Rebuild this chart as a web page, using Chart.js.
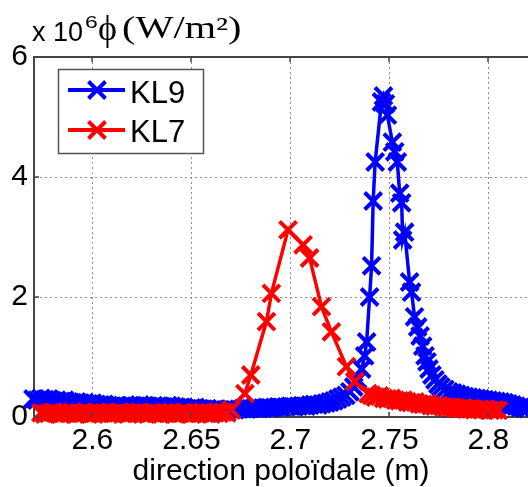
<!DOCTYPE html>
<html lang="fr">
<head>
<meta charset="UTF-8">
<title>Flux KL9 / KL7</title>
<style>
  html, body { margin: 0; padding: 0; background: #fff; }
  #wrap { position: relative; width: 528px; height: 487px; overflow: hidden; }
</style>
</head>
<body>
<div id="wrap"><canvas id="fluxChart" width="528" height="487"></canvas></div>

<script src="https://cdn.jsdelivr.net/npm/chart.js"></script>
<script>
// axis ticks
const xTicks = [2.6, 2.65, 2.7, 2.75, 2.8];
const yTicks = [0, 2, 4, 6];

// KL9 (blue), y in 1e6 W/m2
const kl9X = [
  2.570, 2.572, 2.574, 2.576, 2.578, 2.580, 2.582, 2.584, 2.586, 2.588,
  2.590, 2.592, 2.594, 2.596, 2.598, 2.600, 2.602, 2.604, 2.606, 2.608,
  2.610, 2.612, 2.614, 2.616, 2.618, 2.620, 2.622, 2.624, 2.626, 2.628,
  2.630, 2.632, 2.634, 2.636, 2.638, 2.640, 2.642, 2.644, 2.646, 2.648,
  2.650, 2.652, 2.654, 2.656, 2.658, 2.660, 2.662, 2.664, 2.666, 2.668,
  2.670, 2.672, 2.674, 2.676, 2.678, 2.680, 2.682, 2.684, 2.686, 2.688,
  2.690, 2.692, 2.694, 2.696, 2.698, 2.700, 2.702, 2.704, 2.706, 2.708,
  2.710, 2.712, 2.714, 2.716, 2.718, 2.720, 2.722, 2.724, 2.726, 2.728,
  2.730, 2.732, 2.734, 2.736, 2.7375, 2.7385, 2.7400, 2.7410, 2.7418, 2.7428,
  2.7460, 2.7470, 2.7480, 2.7490, 2.7515, 2.7527, 2.7540, 2.7552, 2.7562, 2.7567,
  2.7577, 2.7602, 2.7612, 2.7627, 2.7643, 2.7655, 2.7668, 2.7680, 2.7690, 2.7700,
  2.7715, 2.7730, 2.7745, 2.7760, 2.7780, 2.7800, 2.782, 2.784, 2.786, 2.788,
  2.790, 2.792, 2.794, 2.796, 2.798, 2.800, 2.802, 2.804, 2.806, 2.808,
  2.810, 2.812, 2.814, 2.816, 2.818, 2.820, 2.822
];
const kl9Y = [
  0.30, 0.28, 0.31, 0.29, 0.30, 0.27, 0.28, 0.26, 0.28, 0.25,
  0.24, 0.25, 0.23, 0.24, 0.22, 0.23, 0.21, 0.20, 0.21, 0.19,
  0.18, 0.19, 0.17, 0.18, 0.17, 0.19, 0.18, 0.20, 0.19, 0.18,
  0.17, 0.16, 0.18, 0.17, 0.19, 0.18, 0.17, 0.15, 0.16, 0.14,
  0.15, 0.16, 0.14, 0.13, 0.14, 0.12, 0.13, 0.12, 0.11, 0.12,
  0.13, 0.12, 0.13, 0.14, 0.13, 0.14, 0.15, 0.14, 0.15, 0.16,
  0.15, 0.16, 0.17, 0.16, 0.17, 0.18, 0.17, 0.18, 0.19, 0.18,
  0.20, 0.21, 0.20, 0.22, 0.23, 0.25, 0.27, 0.30, 0.33, 0.36,
  0.42, 0.50, 0.62, 0.80, 1.02, 1.25, 2.00, 2.52, 3.60, 4.25,
  5.25, 5.35, 5.22, 5.03, 4.58, 4.42, 4.25, 3.73, 3.57, 2.95,
  3.08, 2.25, 2.08, 1.67, 1.50, 1.35, 1.18, 1.02, 0.92, 0.80,
  0.70, 0.62, 0.55, 0.50, 0.46, 0.42, 0.40, 0.38, 0.36, 0.34,
  0.33, 0.32, 0.31, 0.30, 0.29, 0.28, 0.27, 0.26, 0.25, 0.24,
  0.22, 0.20, 0.18, 0.16, 0.15, 0.14, 0.13
];

// KL7 (red)
const kl7X = [
  2.574, 2.576, 2.578, 2.580, 2.582, 2.584, 2.586, 2.588, 2.590, 2.592,
  2.594, 2.596, 2.598, 2.600, 2.602, 2.604, 2.606, 2.608, 2.610, 2.612,
  2.614, 2.616, 2.618, 2.620, 2.622, 2.624, 2.626, 2.628, 2.630, 2.632,
  2.634, 2.636, 2.638, 2.640, 2.642, 2.644, 2.646, 2.648, 2.650, 2.652,
  2.654, 2.656, 2.658, 2.660, 2.662, 2.664, 2.666, 2.668,
  2.6702, 2.677, 2.680, 2.6879, 2.6904, 2.6988, 2.7064, 2.7097, 2.7157, 2.7207,
  2.7283, 2.7325, 2.7392,
  2.741, 2.743, 2.745, 2.747, 2.749, 2.751, 2.753, 2.755, 2.757, 2.759,
  2.761, 2.763, 2.765, 2.767, 2.769, 2.771, 2.773, 2.775, 2.777, 2.779,
  2.781, 2.783, 2.785, 2.787, 2.789, 2.791, 2.793, 2.795, 2.797, 2.799,
  2.801, 2.803, 2.805
];
const kl7Y = [
  0.07, 0.05, 0.06, 0.08, 0.06, 0.05, 0.07, 0.06, 0.08, 0.05,
  0.06, 0.07, 0.05, 0.06, 0.08, 0.06, 0.07, 0.05, 0.06, 0.07,
  0.08, 0.06, 0.05, 0.07, 0.06, 0.08, 0.06, 0.05, 0.07, 0.06,
  0.05, 0.07, 0.06, 0.08, 0.05, 0.06, 0.07, 0.06, 0.05, 0.07,
  0.06, 0.08, 0.06, 0.05, 0.07, 0.06, 0.08, 0.07,
  0.12, 0.39, 0.70, 1.59, 2.06, 3.12, 2.87, 2.65, 1.84, 1.42,
  0.84, 0.59, 0.39,
  0.36, 0.33, 0.35, 0.31, 0.30, 0.31, 0.28, 0.27, 0.28, 0.25,
  0.24, 0.25, 0.22, 0.21, 0.22, 0.19, 0.18, 0.19, 0.17, 0.16,
  0.17, 0.15, 0.14, 0.15, 0.13, 0.14, 0.12, 0.13, 0.12, 0.13,
  0.11, 0.12, 0.11
];

const sans = "'Liberation Sans', Arial, sans-serif";
const serif = "'Liberation Serif', 'Times New Roman', serif";
Chart.defaults.font.family = sans;
Chart.defaults.color = '#000';

const toPoints = (xs, ys) => xs.map((x, i) => ({ x: x, y: ys[i] }));

function drawCross(ctx, x, y, r, color) {
  const d = r * Math.SQRT1_2;
  ctx.strokeStyle = color;
  ctx.lineWidth = 4;
  ctx.beginPath();
  ctx.moveTo(x - d, y - d); ctx.lineTo(x + d, y + d);
  ctx.moveTo(x + d, y - d); ctx.lineTo(x - d, y + d);
  ctx.stroke();
}

// top frame line, inward ticks, legend box and the axis title
const frame = {
  id: 'frame',
  afterDraw(chart) {
    const { ctx, chartArea: a, scales } = chart;
    ctx.save();
    ctx.strokeStyle = '#444';
    ctx.lineWidth = 2;
    ctx.beginPath();
    ctx.moveTo(a.left - 1, a.top);
    ctx.lineTo(a.right, a.top);
    ctx.stroke();

    ctx.lineWidth = 1.5;
    ctx.beginPath();
    xTicks.forEach(v => {
      const px = Math.round(scales.x.getPixelForValue(v));
      ctx.moveTo(px, a.bottom); ctx.lineTo(px, a.bottom - 5);
      ctx.moveTo(px, a.top); ctx.lineTo(px, a.top + 5);
    });
    yTicks.forEach(v => {
      const py = Math.round(scales.y.getPixelForValue(v));
      ctx.moveTo(a.left, py); ctx.lineTo(a.left + 5, py);
    });
    ctx.stroke();

    // legend
    ctx.fillStyle = '#fff';
    ctx.fillRect(58, 69, 145, 84);
    ctx.strokeStyle = '#555';
    ctx.lineWidth = 1.5;
    ctx.strokeRect(58.5, 69.5, 145, 84);
    ctx.font = '31px ' + sans;
    ctx.textBaseline = 'alphabetic';
    ctx.textAlign = 'left';
    [[0, 90, 103], [1, 130, 142]].forEach(([i, ly, base]) => {
      const ds = chart.data.datasets[i];
      ctx.strokeStyle = ds.borderColor;
      ctx.lineWidth = 4;
      ctx.beginPath(); ctx.moveTo(68, ly); ctx.lineTo(125, ly); ctx.stroke();
      drawCross(ctx, 97, ly, 12, ds.borderColor);
      ctx.fillStyle = '#000';
      ctx.fillText(ds.label, 130, base);
    });

    // y title: x 10^6 phi (W/m2)
    ctx.fillStyle = '#000';
    ctx.font = '27px ' + sans;
    ctx.fillText('x 10', 32, 41);
    ctx.save();
    ctx.translate(85, 28);
    ctx.scale(1.35, 1);
    ctx.font = '17px ' + sans;
    ctx.fillText('6', 0, 0);
    ctx.restore();
    ctx.font = '36px ' + serif;
    ctx.fillText('\u03D5', 98, 40);
    ctx.save();
    ctx.translate(122, 38);
    ctx.scale(1.3, 1);
    ctx.font = '31px ' + serif;
    ctx.fillText('(W/m\u00B2)', 0, 0);
    ctx.restore();
    ctx.restore();
  }
};

const gridStyle = { color: '#8a8a8a', lineWidth: 1, drawTicks: false };
const borderStyle = { display: true, color: '#444', width: 2, dash: [2, 3] };

new Chart(document.getElementById('fluxChart'), {
  type: 'scatter',
  data: {
    datasets: [
      {
        label: 'KL9',
        data: toPoints(kl9X, kl9Y),
        showLine: true,
        borderColor: '#0000ff',
        backgroundColor: '#0000ff',
        borderWidth: 3.5,
        pointStyle: 'crossRot',
        pointRadius: 12,
        pointBorderWidth: 4,
        clip: false,
        order: 2
      },
      {
        label: 'KL7',
        data: toPoints(kl7X, kl7Y),
        showLine: true,
        borderColor: '#ff0000',
        backgroundColor: '#ff0000',
        borderWidth: 3.5,
        pointStyle: 'crossRot',
        pointRadius: 12,
        pointBorderWidth: 4,
        clip: false,
        order: 1
      }
    ]
  },
  options: {
    responsive: false,
    animation: false,
    devicePixelRatio: 1,
    layout: { autoPadding: false, padding: { top: 57, left: 0, right: 0, bottom: 0 } },
    plugins: { legend: { display: false }, tooltip: { enabled: false } },
    scales: {
      x: {
        type: 'linear',
        min: 2.5705,
        max: 2.82,
        afterBuildTicks: s => { s.ticks = xTicks.map(v => ({ value: v })); },
        afterFit: s => { s.height = 70; },
        ticks: {
          font: { size: 30 },
          padding: 6,
          maxRotation: 0,
          autoSkip: false,
          callback: v => String(Math.round(v * 100) / 100)
        },
        grid: gridStyle,
        border: borderStyle,
        title: {
          display: true,
          text: 'direction poloïdale (m)',
          font: { size: 30 },
          padding: { top: 0, bottom: -3 }
        }
      },
      y: {
        min: 0,
        max: 6,
        afterBuildTicks: s => { s.ticks = yTicks.map(v => ({ value: v })); },
        afterFit: s => { s.width = 34; },
        ticks: { font: { size: 30 }, padding: 6 },
        grid: gridStyle,
        border: borderStyle
      }
    }
  },
  plugins: [frame]
});
</script>
</body>
</html>
